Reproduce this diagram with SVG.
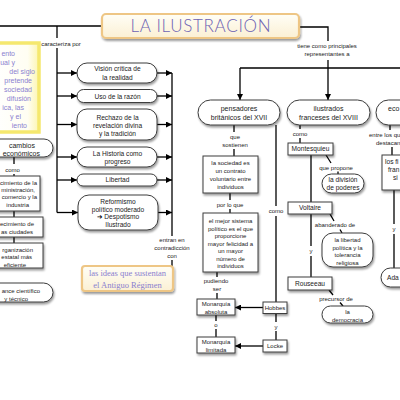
<svg xmlns="http://www.w3.org/2000/svg" width="400" height="400" viewBox="0 0 400 400">
<defs>
<filter id="sh" x="-20%" y="-30%" width="150%" height="170%">
<feGaussianBlur in="SourceAlpha" stdDeviation="1.2"/>
<feOffset dx="1.2" dy="1.8"/>
<feComponentTransfer><feFuncA type="linear" slope="0.4"/></feComponentTransfer>
<feMerge><feMergeNode/><feMergeNode in="SourceGraphic"/></feMerge>
</filter>
<marker id="ah" viewBox="0 0 10 10" refX="10" refY="5" markerWidth="6" markerHeight="6" markerUnits="userSpaceOnUse" orient="auto"><path d="M0,0 L10,5 L0,10 z" fill="#000"/></marker>
<linearGradient id="cream" x1="0" y1="0" x2="0" y2="1"><stop offset="0" stop-color="#fffef6"/><stop offset="1" stop-color="#fbf0d4"/></linearGradient>
<linearGradient id="yel" x1="0" y1="0" x2="1" y2="0"><stop offset="0" stop-color="#ffffff"/><stop offset="0.75" stop-color="#fffef2"/><stop offset="1" stop-color="#fcf5b0"/></linearGradient>
</defs>
<style>
.p{fill:#fff;stroke:#3c3c3c;stroke-width:1;filter:url(#sh)}
.t{font-family:"Liberation Sans",Arial,sans-serif;font-size:6.6px;fill:#222;text-anchor:middle}
.s{font-size:6px}
.b{font-size:7px}
.e{text-anchor:end}
.st{text-anchor:start}
.c{stroke:#000;stroke-width:1.3;fill:none}
.a{marker-end:url(#ah)}
.y{font-family:"Liberation Sans",Arial,sans-serif;font-size:7px;fill:#8a7fd0;text-anchor:end}
.cr{fill:url(#cream);stroke:#eec685;stroke-width:2.2;filter:url(#sh)}
</style>

<g id="connectors" class="c">
<path d="M0,26 H102"/>
<path d="M57,26 V38"/>
<path d="M57,48 V212.5"/>
<path class="a" d="M57,73 H77"/>
<path class="a" d="M57,96 H77"/>
<path class="a" d="M57,124.5 H77"/>
<path class="a" d="M57,157 H77"/>
<path class="a" d="M57,180 H77"/>
<path class="a" d="M57,212.5 H78"/>
<path class="a" d="M157,73 H172"/>
<path class="a" d="M157,96 H172"/>
<path class="a" d="M157,124.5 H172"/>
<path class="a" d="M157,157 H172"/>
<path class="a" d="M157,180 H172"/>
<path class="a" d="M158,212.5 H172"/>
<path d="M172,73 V236"/>
<path d="M172,260 V266"/>
<path d="M299,27 H328 V41"/>
<path class="a" d="M328,60 V100"/>
<path d="M240,68 H400"/>
<path class="a" d="M240,68 V100"/>
<path d="M234,125 V132"/>
<path d="M234,149 V156"/>
<path d="M230,193 V200"/>
<path d="M230,209 V213"/>
<path d="M217,272 V277"/>
<path d="M217,293 V299"/>
<path d="M216,315 V321"/>
<path d="M216,329 V337"/>
<path d="M276,313.5 V322"/>
<path d="M276,331 V340"/>
<path d="M276,125 V206"/>
<path d="M276,216 V302"/>
<path class="a" d="M263,307.5 H235"/>
<path class="a" d="M263,346 H235"/>
<path d="M300,125 V129"/>
<path d="M300,138 V143"/>
<path d="M311,155 V202"/>
<path d="M326,155 L331,163"/>
<path d="M338,171.5 V174"/>
<path d="M330,214 L334,221"/>
<path d="M340,229.5 L342,233"/>
<path d="M311,214 V246"/>
<path d="M311,256 V277"/>
<path d="M329,290 L333,295"/>
<path d="M340,302.5 L343,306"/>
<path d="M390,125 V130"/>
<path d="M392,147 V155"/>
<path d="M394,190 V224"/>
<path d="M394,234 V268"/>
<path d="M14,157 V164"/>
<path d="M14,174 V176"/>
<path d="M14,211 V217"/>
<path d="M14,237 V243"/>
</g>

<g id="labels" class="t s">
<text x="57" y="46">se caracteriza por</text>
<text x="172" y="242">entran en</text>
<text x="172" y="250">contradicción</text>
<text x="172" y="258">con</text>
<text x="327" y="48">tiene como principales</text>
<text x="327" y="56">representantes a</text>
<text x="235" y="138.5">que</text>
<text x="235" y="146.5">sostienen</text>
<text x="230" y="206.5">por lo que</text>
<text x="216" y="283">pudiendo</text>
<text x="217" y="291">ser</text>
<text x="216" y="326.5">o</text>
<text x="276" y="328.5">y</text>
<text x="276" y="213">como</text>
<text x="300" y="135.5">como</text>
<text x="336" y="169.5">que propone</text>
<text x="335" y="227">abanderado de</text>
<text x="311" y="253">y</text>
<text x="336" y="300.5">precursor de</text>
<text x="369" y="137" class="st">entre los qu</text>
<text x="376" y="144.5" class="st">destacan</text>
<text x="394" y="231">y</text>
<text x="12.5" y="171.5">como</text>
</g>

<g id="titulo">
<rect x="102" y="14" width="197" height="24" rx="4" class="cr"/>
<text x="200.5" y="32" font-family="Lato, 'Liberation Sans', sans-serif" font-weight="300" font-size="17" fill="#6c62b3" text-anchor="middle" textLength="140" lengthAdjust="spacing">LA ILUSTRACIÓN</text>
</g>

<g id="movimiento">
<rect x="-6" y="43" width="45" height="89" fill="url(#yel)" stroke="#f5e86e" stroke-width="3.5"/>
<text class="y" x="15" y="55.5">ento</text>
<text class="y" x="15" y="64.5">ual y</text>
<text class="y" x="35" y="74">del siglo</text>
<text class="y" x="32" y="83">pretende</text>
<text class="y" x="32" y="92">sociedad</text>
<text class="y" x="31" y="100.5">difusión</text>
<text class="y" x="24" y="109.5">ica, las</text>
<text class="y" x="21" y="119">y el</text>
<text class="y" x="27" y="127.5">iento</text>
</g>

<g id="cambios">
<rect x="-20" y="139" width="73" height="18" rx="9" class="p"/>
<text class="t b e" x="35" y="147.5">cambios</text>
<text class="t b e" x="40" y="155.5">económicos</text>
</g>
<g id="crecimiento-comercio">
<rect x="-5" y="176" width="45" height="35" class="p"/>
<text class="t s e" x="37" y="184.5">cimiento de la</text>
<text class="t s e" x="35" y="192">ministración,</text>
<text class="t s e" x="37" y="199.3">comercio y la</text>
<text class="t s e" x="29" y="207">industria</text>
</g>
<g id="ciudades">
<rect x="-5" y="217" width="48" height="20" class="p"/>
<text class="t s e" x="34" y="226">ecimiento de</text>
<text class="t s e" x="33" y="234">as ciudades</text>
</g>
<g id="organizacion">
<rect x="-5" y="243" width="48" height="25" class="p"/>
<text class="t s e" x="33" y="251.5">rganización</text>
<text class="t s e" x="32" y="259">estatal más</text>
<text class="t s e" x="26" y="266.5">eficiente</text>
</g>
<g id="avance">
<rect x="-20" y="283" width="73" height="19" rx="9.5" class="p"/>
<text class="t s e" x="40" y="292.5">ance científico</text>
<text class="t s e" x="28" y="300.5">y técnico</text>
</g>

<g id="vision">
<rect x="77" y="63" width="80" height="20" rx="10" class="p"/>
<text class="t" x="117.5" y="71">Visión crítica de</text>
<text class="t" x="117.5" y="80">la realidad</text>
</g>
<g id="razon">
<rect x="77" y="89.5" width="80" height="13" rx="6.5" class="p"/>
<text class="t" x="117.5" y="98.5">Uso de la razón</text>
</g>
<g id="rechazo">
<rect x="77" y="109" width="80" height="31" rx="10" class="p"/>
<text class="t" x="117.5" y="120">Rechazo de la</text>
<text class="t" x="117.5" y="128">revelación divina</text>
<text class="t" x="117.5" y="135.5">y la tradición</text>
</g>
<g id="historia">
<rect x="77" y="147" width="80" height="20" rx="10" class="p"/>
<text class="t" x="117.5" y="155.5">La Historia como</text>
<text class="t" x="117.5" y="163.5">progreso</text>
</g>
<g id="libertad">
<rect x="77" y="174" width="80" height="12" rx="6" class="p"/>
<text class="t" x="117.5" y="182.3">Libertad</text>
</g>
<g id="reformismo">
<rect x="78" y="195" width="80" height="35" rx="11" class="p"/>
<text class="t" x="118" y="204">Reformismo</text>
<text class="t" x="118" y="211.5">político moderado</text>
<text class="t" x="118" y="219"><tspan font-family="'DejaVu Sans',sans-serif" fill="#000">➔</tspan> Despotismo</text>
<text class="t" x="118" y="227">Ilustrado</text>
</g>
<g id="antiguo-regimen">
<rect x="82" y="266" width="91" height="25" rx="3" class="cr"/>
<text x="127.5" y="276" font-family="'Liberation Serif',serif" font-size="8.5" fill="#8a7fd0" text-anchor="middle">las ideas que sustentan</text>
<text x="127.5" y="287.5" font-family="'Liberation Serif',serif" font-size="8.5" fill="#8a7fd0" text-anchor="middle">el Antiguo  Régimen</text>
</g>

<g id="britanicos">
<rect x="198" y="100" width="82" height="25" rx="12.5" class="p"/>
<text class="t b" x="239" y="111">pensadores</text>
<text class="t b" x="239" y="120">británicos del XVII</text>
</g>
<g id="franceses">
<rect x="287" y="100" width="83" height="25" rx="12.5" class="p"/>
<text class="t b" x="328.5" y="110.5">ilustrados</text>
<text class="t b" x="328.5" y="119.5">franceses del XVIII</text>
</g>
<g id="economistas">
<rect x="376" y="100" width="60" height="25" rx="12.5" class="p"/>
<text class="t b st" x="388" y="110.5">eco</text>
</g>
<g id="contrato">
<rect x="203" y="156" width="55" height="37" class="p"/>
<text class="t s" x="230.5" y="165">la sociedad es</text>
<text class="t s" x="230.5" y="173">un contrato</text>
<text class="t s" x="230.5" y="180.5">voluntario entre</text>
<text class="t s" x="230.5" y="188.5">individuos</text>
</g>
<g id="mejor-sistema">
<rect x="203" y="213" width="55" height="59" class="p"/>
<text class="t s" x="230.5" y="223">el mejor sistema</text>
<text class="t s" x="230.5" y="230.5">político es el que</text>
<text class="t s" x="230.5" y="238">proporcione</text>
<text class="t s" x="230.5" y="245.5">mayor felicidad a</text>
<text class="t s" x="230.5" y="253">un mayor</text>
<text class="t s" x="230.5" y="260.5">número de</text>
<text class="t s" x="230.5" y="268">individuos</text>
</g>
<g id="monarquia-absoluta">
<rect x="197" y="299" width="38" height="16" class="p"/>
<text class="t s" x="216" y="306">Monarquía</text>
<text class="t s" x="216" y="313.5">absoluta</text>
</g>
<g id="hobbes">
<rect x="263" y="302" width="24" height="11.5" class="p"/>
<text class="t s" x="275" y="310">Hobbes</text>
</g>
<g id="monarquia-limitada">
<rect x="197" y="337" width="38" height="16" class="p"/>
<text class="t s" x="216" y="344">Monarquía</text>
<text class="t s" x="216" y="351.5">limitada</text>
</g>
<g id="locke">
<rect x="263" y="340" width="24" height="12" class="p"/>
<text class="t s" x="275" y="348.2">Locke</text>
</g>
<g id="montesquieu">
<rect x="288" y="143" width="45" height="12" class="p"/>
<text class="t" x="310.5" y="151.3">Montesquieu</text>
</g>
<g id="division">
<rect x="322" y="174" width="42" height="19" rx="9.5" class="p"/>
<text class="t" x="343" y="181.5">la división</text>
<text class="t" x="343" y="189.5">de poderes</text>
</g>
<g id="voltaire">
<rect x="288" y="202" width="44" height="12" class="p"/>
<text class="t" x="310" y="210.3">Voltaire</text>
</g>
<g id="tolerancia">
<rect x="322" y="233" width="51" height="34" rx="11" class="p"/>
<text class="t s" x="347.5" y="242">la libertad</text>
<text class="t s" x="347.5" y="249.5">política y la</text>
<text class="t s" x="347.5" y="257">tolerancia</text>
<text class="t s" x="347.5" y="264.5">religiosa</text>
</g>
<g id="rouseeau">
<rect x="288" y="277" width="44" height="13" class="p"/>
<text class="t" x="310" y="285.8">Rouseeau</text>
</g>
<g id="democracia">
<rect x="322" y="306" width="51" height="17" rx="8.5" class="p"/>
<text class="t s" x="347.5" y="314">la</text>
<text class="t s" x="347.5" y="321.5">democracia</text>
</g>
<g id="fisiocratas">
<rect x="382" y="155" width="40" height="35" class="p"/>
<text class="t st" x="385" y="164">los fi</text>
<text class="t st" x="388" y="172">fran</text>
<text class="t st" x="393" y="179.5">si</text>
</g>
<g id="adam">
<rect x="381" y="268" width="40" height="19" rx="9.5" class="p"/>
<text class="t st" x="387" y="279.5">Ada</text>
</g>
</svg>
